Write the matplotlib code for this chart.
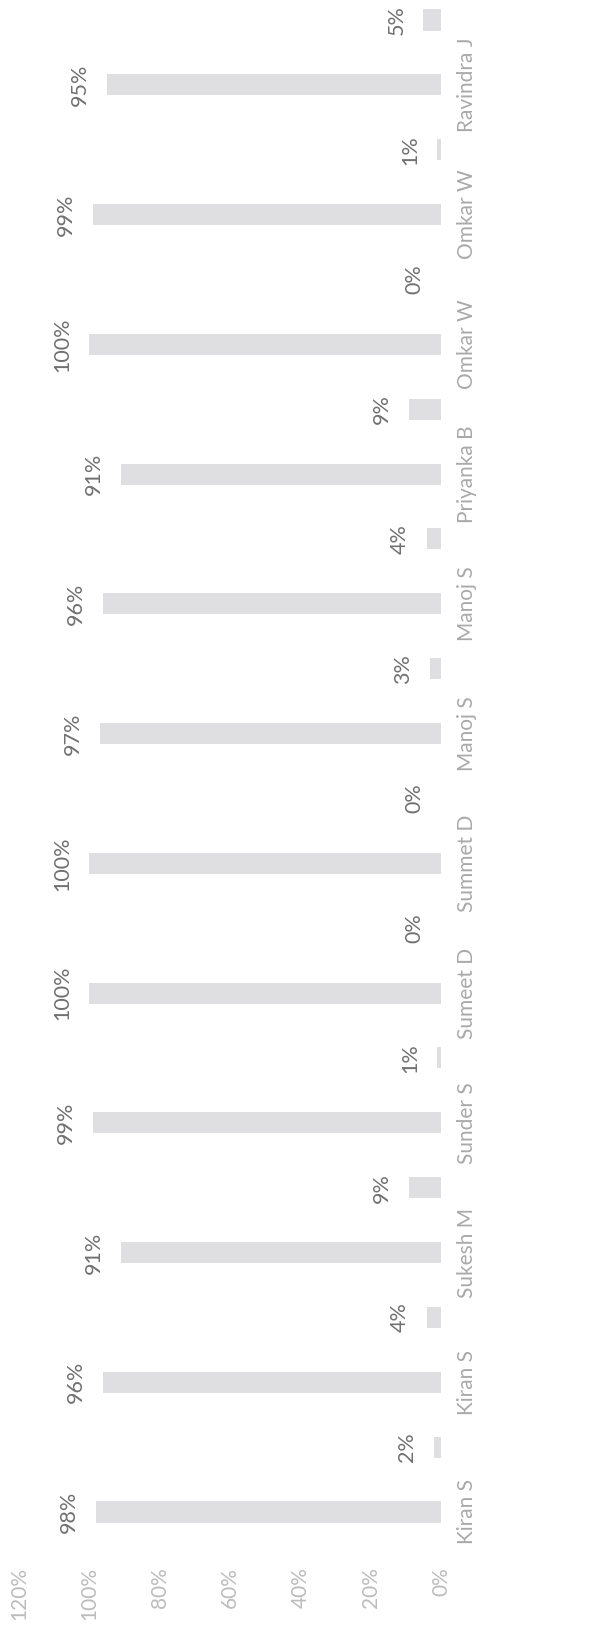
import matplotlib
matplotlib.use("Agg")
import matplotlib.pyplot as plt
from matplotlib.ticker import PercentFormatter

# attendance share per person: present (labelled) and absent (in between)
names = ["Kiran S", "Kiran S", "Sukesh M", "Sunder S", "Sumeet D", "Summet D",
         "Manoj S", "Manoj S", "Priyanka B", "Omkar W", "Omkar W", "Ravindra J"]
present = [0.98, 0.96, 0.91, 0.99, 1.00, 1.00, 0.97, 0.96, 0.91, 1.00, 0.99, 0.95]
absent = [0.02, 0.04, 0.09, 0.01, 0.00, 0.00, 0.03, 0.04, 0.09, 0.00, 0.01, 0.05]
x_ticks = [0, 0.2, 0.4, 0.6, 0.8, 1.0, 1.2]

plt.rcParams["font.family"] = ["Lato", "DejaVu Sans"]

W, H = 597, 1629
fig = plt.figure(figsize=(W / 100, H / 100), dpi=100)
fig.patch.set_facecolor("white")

# axes runs from 120% (left) to 0% (right), categories bottom to top
left, right, bottom = 19, 441, 1560
ax = fig.add_axes([left / W, (H - bottom) / H, (right - left) / W, bottom / H])

values = []
for p, a in zip(present, absent):
    values += [p, a]
pos = list(range(len(values)))

step = (1512 - 20) / 23
ax.set_ylim(-(bottom - 1512) / step, 23 + 20 / step)
ax.set_xlim(1.2, 0)

ax.barh(pos, values, height=0.325, color="#dfdfe1", edgecolor="none")

for y, v in zip(pos, values):
    ax.annotate(f"{v:.0%}", xy=(v, y), xytext=(-19.5, 0),
                textcoords="offset points", rotation=90,
                ha="center", va="center", fontsize=15.5, color="#707070")

for i, name in enumerate(names):
    ax.annotate(name, xy=(0, 2 * i), xytext=(18.5, 0),
                textcoords="offset points", rotation=90,
                ha="center", va="center", fontsize=15, color="#a9a9a9",
                annotation_clip=False)

ax.set_xticks(x_ticks)
ax.xaxis.set_major_formatter(PercentFormatter(1.0, decimals=0))
ax.tick_params(axis="x", length=0, pad=5, labelsize=15, labelcolor="#bcbcbc",
               labelrotation=90)
for lbl in ax.get_xticklabels():
    lbl.set_va("top")
    lbl.set_ha("center")
ax.set_yticks([])
for s in ax.spines.values():
    s.set_visible(False)
ax.set_facecolor("none")

fig.savefig("out.png", dpi=100, facecolor="white")
